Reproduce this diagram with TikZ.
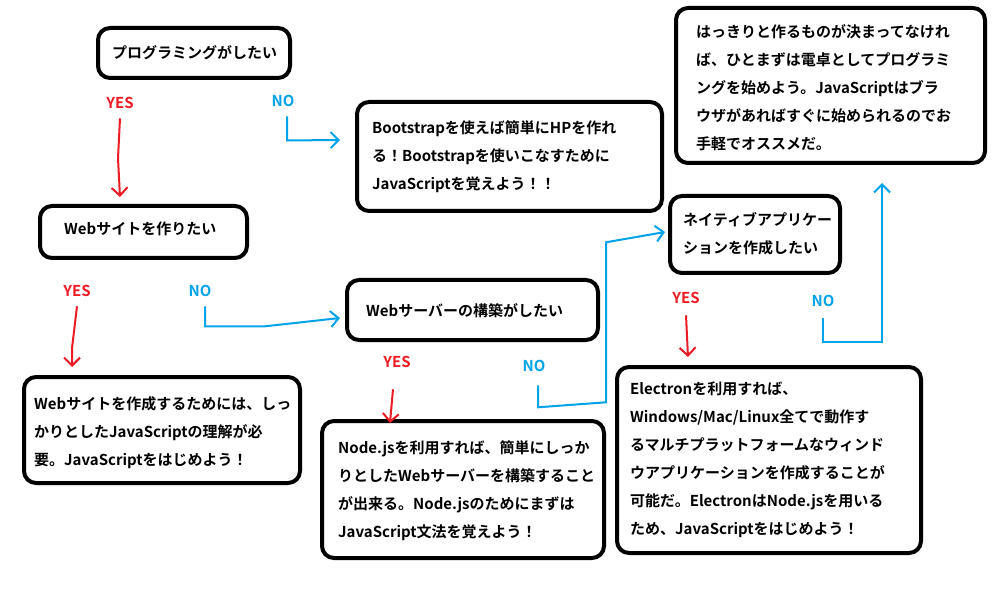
\documentclass[tikz,border=0pt]{standalone}
\usepackage{fontspec}
\setmainfont{Noto Sans CJK JP}[BoldFont={Noto Sans CJK JP Bold}]
\usetikzlibrary{arrows.meta}
\definecolor{yred}{RGB}{237,28,36}
\definecolor{nblue}{RGB}{0,162,232}
\begin{document}
\begin{tikzpicture}[x=1pt,y=-1pt,
  box/.style={draw=black,line width=4pt,rounded corners=12pt,fill=white},
  txt/.style={font=\fontsize{15}{28}\selectfont\bfseries,align=left,anchor=north west,inner sep=0pt},
  yes/.style={text=yred,font=\fontsize{15}{16}\selectfont\bfseries},
  no/.style={text=nblue,font=\fontsize{15}{16}\selectfont\bfseries},
  ya/.style={draw=yred,line width=2pt,-{Straight Barb[length=8pt,width=16pt]}},
  na/.style={draw=nblue,line width=2pt,-{Straight Barb[length=8pt,width=16pt]}}]
\useasboundingbox[fill=white] (0,0) rectangle (1008,601);
% boxes
\draw[box] (98,28) rectangle (290,78);
\node[txt] (b1) at (112,45) {プログラミングがしたい};
\draw[box] (357,102) rectangle (662,211);
\node[txt] (b2) at (372,120) {Bootstrapを使えば簡単にHPを作れ\\る！Bootstrapを使いこなすために\\JavaScriptを覚えよう！！};
\draw[box] (40,206) rectangle (247,258);
\node[txt] (b3) at (64,222) {Webサイトを作りたい};
\draw[box] (347,280) rectangle (598,340);
\node[txt] (b4) at (366,303) {Webサーバーの構築がしたい};
\draw[box] (24,377) rectangle (300,483);
\node[txt] (b5) at (34,396) {Webサイトを作成するためには、しっ\\かりとしたJavaScriptの理解が必\\要。JavaScriptをはじめよう！};
\draw[box] (322,421) rectangle (604,558);
\node[txt] (b6) at (338,440) {Node.jsを利用すれば、簡単にしっか\\りとしたWebサーバーを構築すること\\が出来る。Node.jsのためにまずは\\JavaScript文法を覚えよう！};
\draw[box] (670,196) rectangle (840,273);
\node[txt] (b7) at (683,212) {ネイティブアプリケー\\ションを作成したい};
\draw[box] (617,367) rectangle (921,553);
\node[txt] (b8) at (630,382) {Electronを利用すれば、\\Windows/Mac/Linux全てで動作す\\るマルチプラットフォームなウィンド\\ウアプリケーションを作成することが\\可能だ。ElectronはNode.jsを用いる\\ため、JavaScriptをはじめよう！};
\draw[box] (676,8) rectangle (985,163);
\node[txt] (b9) at (696,24) {はっきりと作るものが決まってなけれ\\ば、ひとまずは電卓としてプログラミ\\ングを始めよう。JavaScriptはブラ\\ウザがあればすぐに始められるのでお\\手軽でオススメだ。};
% labels
\node[yes] (y1) at (120,103) {YES};
\node[no] (n1) at (283,101) {NO};
\node[yes] (y2) at (77,291) {YES};
\node[no] (n2) at (200,291) {NO};
\node[yes] (y3) at (397,362) {YES};
\node[no] (n3) at (534,366) {NO};
\node[yes] (y4) at (686,298) {YES};
\node[no] (n4) at (823,301) {NO};
\coordinate (t1) at (120,197);
\coordinate (t2) at (340,140);
\coordinate (t3) at (72,367);
\coordinate (t4) at (340,318);
\coordinate (t5) at (390,423);
\coordinate (t6) at (665,232);
\coordinate (t7) at (688,357);
\coordinate (t8) at (882,183);
% arrows
\draw[ya] (y1.south) ++(0,6) -- ++(-2,40) -- (t1);
\draw[na] (n1.south) ++(4,6) -- ++(0,24) -- ++(20,0) -- (t2);
\draw[ya] (y2.south) ++(0,6) -- ++(-5,42) -- (t3);
\draw[na] (n2.south) ++(5,6) -- ++(0,20) -- ++(60,0) -- (t4);
\draw[ya] (y3.south) ++(-4,18) -- (t5);
\draw[na] (n3.south) ++(4,10) -- ++(0,22) -- ++(68,-5) -- ++(0,-160) -- (t6);
\draw[ya] (y4.south) ++(0,8) -- (t7);
\draw[na] (n4.south) ++(0,8) -- ++(0,24) -- ++(59,0) -- (t8);
\end{tikzpicture}
\end{document}
